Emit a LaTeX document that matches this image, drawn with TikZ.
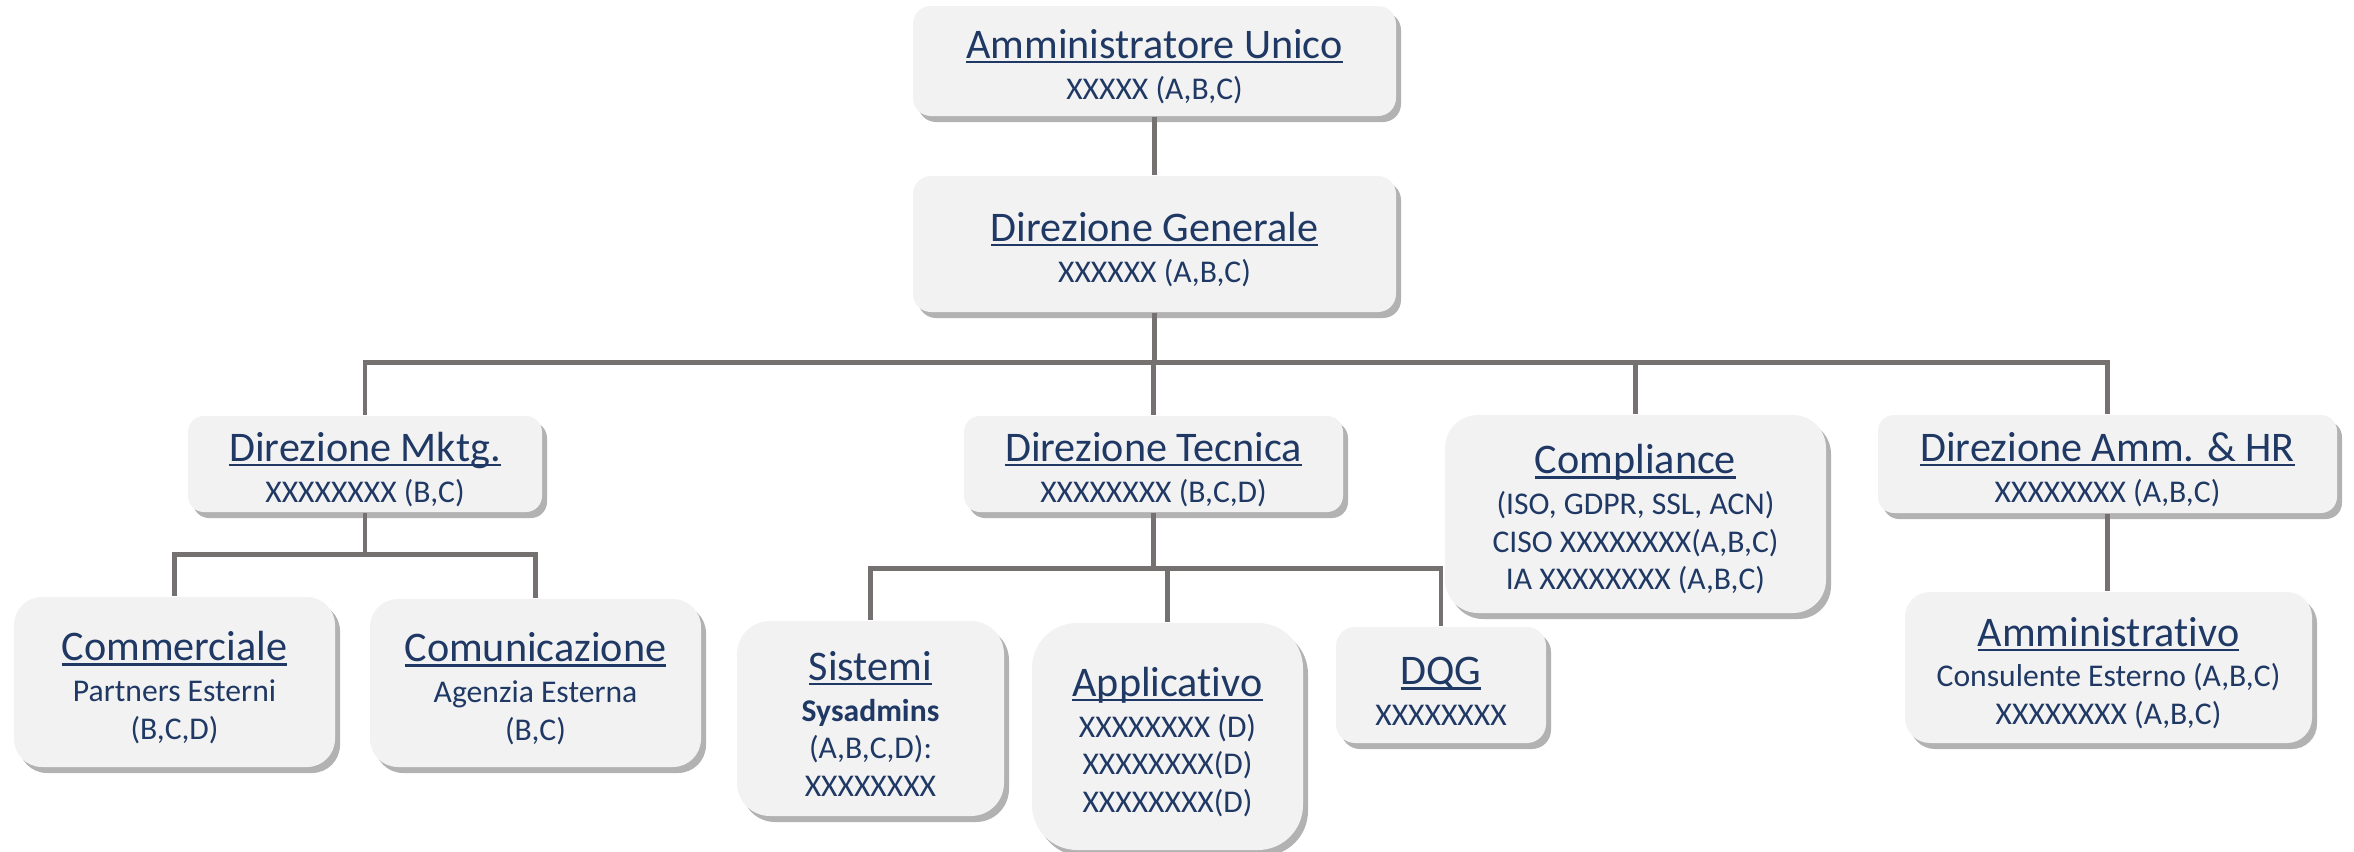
\documentclass[tikz,border=0pt]{standalone}
\usepackage{fontspec}
\setmainfont{Carlito}[Ligatures=NoCommon]
\usetikzlibrary{shadows}

\definecolor{navy}{HTML}{1F3864}
\definecolor{boxgray}{HTML}{F2F2F2}
\definecolor{linegray}{HTML}{767171}

\newcommand{\ulbox}[1]{\sbox0{#1}\makebox[0pt][l]{\rule[-1.4pt]{\wd0}{0.7pt}}\usebox0}
\newcommand{\ttl}[1]{{\fontsize{12}{14}\selectfont\rule{0pt}{11.4pt}\ulbox{#1}}\\[0.9pt]}

\begin{document}
\begin{tikzpicture}[
  box/.style={fill=boxgray,text=navy,align=center,inner sep=0pt,
    font=\fontsize{9}{10.7}\selectfont,
    drop shadow={shadow xshift=0.05cm,shadow yshift=-0.06cm,opacity=0.3,fill=black}},
  link/.style={draw=linegray,line width=1.4pt}]
\useasboundingbox (0,0) rectangle (23.54,-8.51);

% top
\node[box,rounded corners=0.18cm,minimum width=4.83cm,minimum height=1.10cm] (amm) at (11.545,-0.61) {\ttl{Amministratore Unico}XXXXX (A,B,C)};
\node[box,rounded corners=0.18cm,minimum width=4.83cm,minimum height=1.36cm] (dg) at (11.545,-2.44) {\ttl{Direzione Generale}XXXXXX (A,B,C)};

% direzioni
\node[box,rounded corners=0.16cm,minimum width=3.54cm,minimum height=0.96cm] (mktg) at (3.65,-4.64) {\ttl{Direzione Mktg.}XXXXXXXX (B,C)};
\node[box,rounded corners=0.16cm,minimum width=3.79cm,minimum height=0.96cm] (tec) at (11.535,-4.64) {\ttl{Direzione Tecnica}XXXXXXXX (B,C,D)};
\node[box,rounded corners=0.33cm,minimum width=3.81cm,minimum height=1.98cm] (comp) at (16.355,-5.14) {\ttl{Compliance}(ISO, GDPR, SSL, ACN)\\CISO XXXXXXXX(A,B,C)\\IA XXXXXXXX (A,B,C)};
\node[box,rounded corners=0.16cm,minimum width=4.59cm,minimum height=0.98cm] (ammhr) at (21.075,-4.64) {\ttl{Direzione Amm. \& HR}XXXXXXXX (A,B,C)};

% uffici
\node[box,rounded corners=0.28cm,minimum width=3.21cm,minimum height=1.70cm] (comm) at (1.745,-6.82) {\ttl{Commerciale}Partners Esterni\\(B,C,D)};
\node[box,rounded corners=0.28cm,minimum width=3.31cm,minimum height=1.68cm] (comu) at (5.355,-6.83) {\ttl{Comunicazione}Agenzia Esterna\\(B,C)};
\node[box,rounded corners=0.33cm,minimum width=2.67cm,minimum height=1.95cm] (sist) at (8.705,-7.185) {\ttl{Sistemi}\textbf{Sysadmins}\\(A,B,C,D):\\XXXXXXXX};
\node[box,rounded corners=0.45cm,minimum width=2.71cm,minimum height=2.27cm] (appl) at (11.675,-7.365) {\ttl{Applicativo}XXXXXXXX (D)\\XXXXXXXX(D)\\XXXXXXXX(D)};
\node[box,rounded corners=0.19cm,minimum width=2.10cm,minimum height=1.16cm] (dqg) at (14.41,-6.85) {\ttl{DQG}XXXXXXXX};
\node[box,rounded corners=0.25cm,minimum width=4.07cm,minimum height=1.51cm] (ammv) at (21.085,-6.675) {\ttl{Amministrativo}Consulente Esterno (A,B,C)\\XXXXXXXX (A,B,C)};

% connectors
\draw[link] (amm) -- (dg);
\foreach \k in {mktg,tec,comp,ammhr}
  \draw[link] (dg.south) -- ++(0,-0.5) -| (\k.north);
\foreach \k in {comm,comu}
  \draw[link] (mktg.south) -- ++(0,-0.42) -| (\k.north);
\foreach \k in {sist,appl,dqg}
  \draw[link] (tec.south) -- ++(0,-0.56) -| (\k.north);
\draw[link] (ammhr.south) -- (ammhr.south |- ammv.north);
\end{tikzpicture}
\end{document}
